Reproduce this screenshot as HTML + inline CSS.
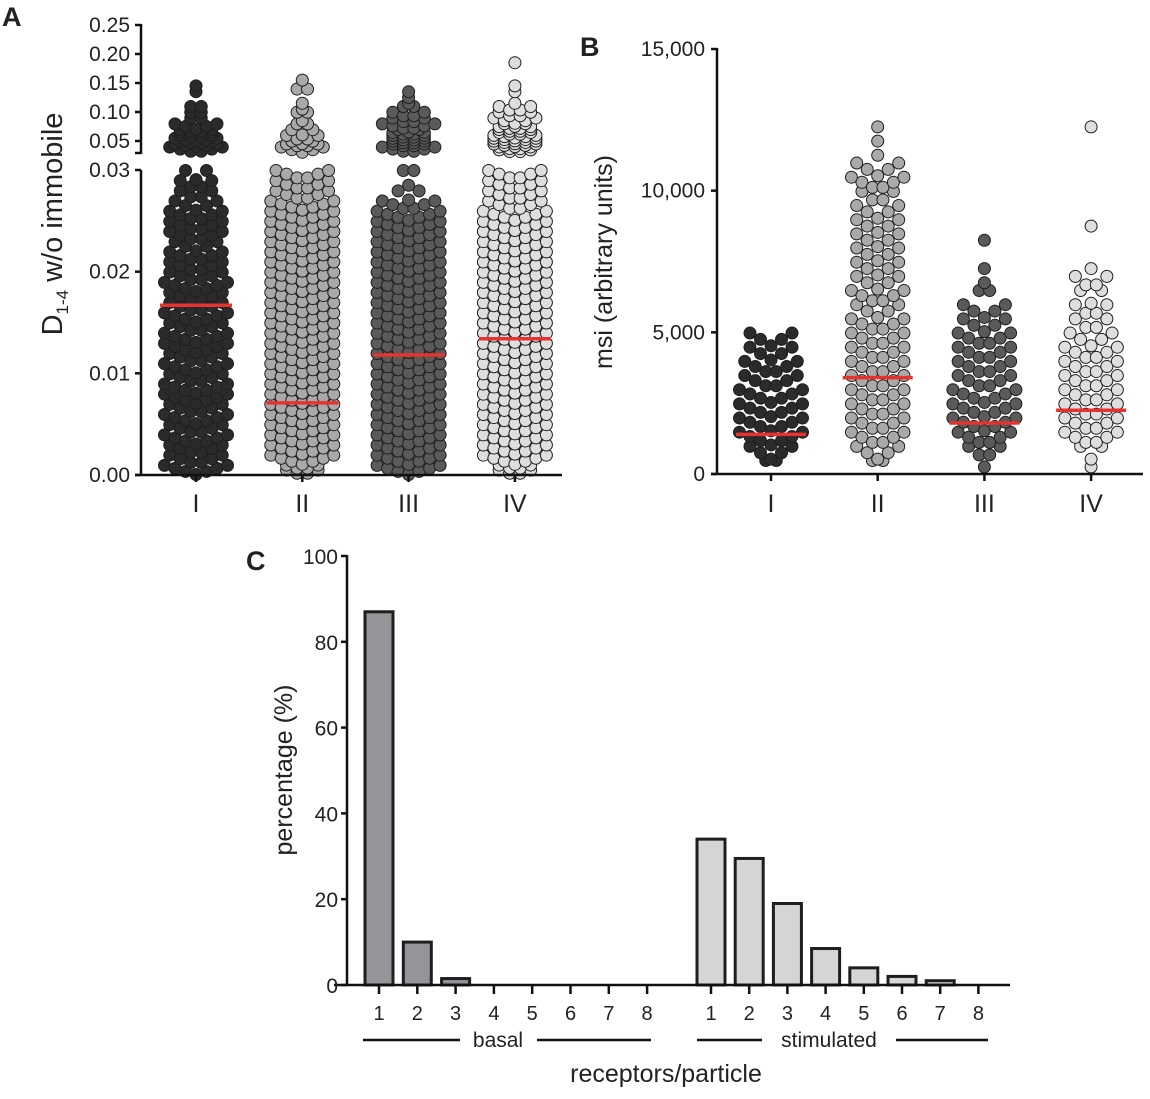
<!DOCTYPE html>
<html><head><meta charset="utf-8"><style>
body{margin:0;background:#fff;}
svg text{font-family:"Liberation Sans Narrow","Liberation Sans",sans-serif;fill:#222;}
</style></head><body>
<svg id="fig" width="1150" height="1094" viewBox="0 0 1150 1094" xmlns="http://www.w3.org/2000/svg">
<text x="2" y="26" font-size="27" font-weight="bold" font-family="Liberation Sans">A</text>
<text x="580" y="56" font-size="27" font-weight="bold" font-family="Liberation Sans">B</text>
<text x="246" y="570" font-size="27" font-weight="bold" font-family="Liberation Sans">C</text>
<g id="pa"></g>
<g id="pb"></g>
<g id="pc"></g>
</svg>
<script>
const groups=["I","II","III","IV"];
const dotColors=["#2b2b2b","#a9a9a9","#5a5a5a","#dedede"];
// Panel A: counts per 0.001 bin for 0-0.03
const aLowI=[7,6,6,7,6,7,6,7,7,6,7,6,7,7,6,7,6,6,7,6,6,6,5,6,6,6,5,4,4,3];
const aLowII=[8,7,7,7,7,7,7,7,7,7,7,7,7,7,7,7,7,7,7,7,7,7,7,7,7,7,7,6,6,6];
const aLowIII=[7,7,7,7,7,7,7,7,7,7,7,7,7,7,7,7,7,7,7,7,7,7,7,7,7,7,6,3,1,2];
const aLowIV=[8,7,7,7,7,7,7,7,7,7,7,7,7,7,7,7,7,7,7,7,7,7,7,7,7,7,6,6,6,6];
// Panel A: counts per 0.01 bin from 0.03 upward
const aHighI=[6,9,9,8,5,2,2,2,0,0,1,1,0,0,0,0];
const aHighII=[5,7,4,3,2,1,2,1,1,0,2,0,1,0,0,0];
const aHighIII=[6,8,8,7,6,4,4,2,1,1,1,0,0,0,0,0];
const aHighIV=[8,10,10,8,7,5,4,4,1,0,1,1,0,0,0,1];
const aMedians=[0.0167,0.0071,0.0118,0.0134];
const aLowTicks=["0.00","0.01","0.02","0.03"];
const aHighTicks=["0.05","0.10","0.15","0.20","0.25"];
// Panel B: counts per 500-unit bin
const bI=[2,5,7,7,7,7,6,6,5,5];
const bII=[2,5,6,6,6,6,6,6,6,6,6,5,6,5,5,5,5,5,5,4,6,5,1,1,1];
const bIII=[1,4,6,7,7,7,6,6,6,6,5,5,2,1,1,0,1];
const bIV=[1,3,6,6,6,6,6,6,6,5,4,4,3,4,1,0,0,1,0,0,0,0,0,0,1];
const bMedians=[1400,3400,1800,2250];
const bTicks=[0,5000,10000,15000];
// Panel C
const cLabels=["1","2","3","4","5","6","7","8"];
const cBasal=[87,10,1.5,0,0,0,0,0];
const cStim=[34,29.5,19,8.5,4,2,1,0];
const cTicks=[0,20,40,60,80,100];

const NS="http://www.w3.org/2000/svg";
function mk(parent,tag,attrs,txt){const e=document.createElementNS(NS,tag);for(const k in attrs)e.setAttribute(k,attrs[k]);if(txt!==undefined)e.textContent=txt;parent.appendChild(e);return e;}

function swarm(g,counts,lo,w,cx,ys,color,gi,maxRow){
  counts.forEach((n,bi)=>{
    if(!n)return;
    const rows=Math.ceil(n/maxRow);
    let left=n;
    for(let r=0;r<rows;r++){
      const m=Math.min(maxRow,Math.ceil(left/(rows-r)));left-=m;
      const base=lo+w*bi+w*r/rows, sub=w/rows;
      for(let k=0;k<m;k++){
        const p=(k-(m-1)/2)*10.5;
        const a=m>1?Math.abs(p)/((m-1)/2*10.5):0;
        const v=base+sub*(m>1?0.05+0.9*a:0.5);
        const c=mk(g,"circle",{cx:cx+p,cy:ys(v),r:6,fill:color,stroke:"#1e1e1e","stroke-width":1});
        
        
      }
    }
  });
}

// ---- Panel A
(function(){
  const g=document.getElementById("pa");
  const ax=141, xs=i=>196+i*106.3;
  const yLow=v=>475-v/0.03*305;
  const yHigh=v=>141-(v-0.05)/0.05*29;
  const low=[aLowI,aLowII,aLowIII,aLowIV], high=[aHighI,aHighII,aHighIII,aHighIV];
  groups.forEach((gname,i)=>{
    swarm(g,low[i],0,0.001,xs(i),yLow,dotColors[i],i,7);
    swarm(g,high[i],0.03,0.01,xs(i),yHigh,dotColors[i],i,6);
  });
  aMedians.forEach((m,i)=>{const l=mk(g,"line",{x1:xs(i)-36,x2:xs(i)+36,y1:yLow(m),y2:yLow(m),stroke:"#e8322f","stroke-width":3.5});
    });
  const yl=mk(g,"line",{x1:ax,x2:ax,y1:170,y2:476,stroke:"#111","stroke-width":2.5});
  
  const yu=mk(g,"line",{x1:ax,x2:ax,y1:24,y2:154,stroke:"#111","stroke-width":2.5});
  
  mk(g,"line",{x1:ax-6,x2:ax,y1:153,y2:153,stroke:"#111","stroke-width":2.5});
  const xl=mk(g,"line",{x1:ax-6,x2:562,y1:475,y2:475,stroke:"#111","stroke-width":2.5});
  
  aLowTicks.forEach((t,i)=>{const y=yLow(+t);mk(g,"line",{x1:ax-6,x2:ax,y1:y,y2:y,stroke:"#111","stroke-width":2.5});
    const tx=mk(g,"text",{x:ax-11,y:y+7,"font-size":21,"text-anchor":"end"},t);});
  aHighTicks.forEach(t=>{const y=yHigh(+t);mk(g,"line",{x1:ax-6,x2:ax,y1:y,y2:y,stroke:"#111","stroke-width":2.5});
    const tx=mk(g,"text",{x:ax-11,y:y+7,"font-size":21,"text-anchor":"end"},t);});
  groups.forEach((t,i)=>{mk(g,"line",{x1:xs(i),x2:xs(i),y1:475,y2:482,stroke:"#111","stroke-width":2.5});
    const tx=mk(g,"text",{x:xs(i),y:512,"font-size":25,"text-anchor":"middle"},t);});
  const tt=mk(g,"text",{transform:"translate(62,224) rotate(-90)","font-size":29,"text-anchor":"middle"});
  
  mk(tt,"tspan",{},"D");mk(tt,"tspan",{"font-size":17,dy:6},"1-4");mk(tt,"tspan",{dy:-6}," w/o immobile");
})();

// ---- Panel B
(function(){
  const g=document.getElementById("pb");
  const ax=717, xs=i=>771+i*106.7, ys=v=>474-v/15000*425;
  [bI,bII,bIII,bIV].forEach((c,i)=>swarm(g,c,0,500,xs(i),ys,dotColors[i],i,7));
  bMedians.forEach((m,i)=>{const l=mk(g,"line",{x1:xs(i)-35,x2:xs(i)+35,y1:ys(m),y2:ys(m),stroke:"#e8322f","stroke-width":3.5});
    });
  const yl=mk(g,"line",{x1:ax,x2:ax,y1:48,y2:475,stroke:"#111","stroke-width":2.5});
  
  const xl=mk(g,"line",{x1:ax-6,x2:1143,y1:474,y2:474,stroke:"#111","stroke-width":2.5});
  
  bTicks.forEach(t=>{const y=ys(t);mk(g,"line",{x1:ax-6,x2:ax,y1:y,y2:y,stroke:"#111","stroke-width":2.5});
    const tx=mk(g,"text",{x:ax-12,y:y+7,"font-size":21,"text-anchor":"end"},t.toLocaleString("en-US"));});
  groups.forEach((t,i)=>{mk(g,"line",{x1:xs(i),x2:xs(i),y1:474,y2:481,stroke:"#111","stroke-width":2.5});
    const tx=mk(g,"text",{x:xs(i),y:512,"font-size":25,"text-anchor":"middle"},t);});
  const tt=mk(g,"text",{transform:"translate(612,262) rotate(-90)","font-size":25,"text-anchor":"middle"},"msi (arbitrary units)");
  
})();

// ---- Panel C
(function(){
  const g=document.getElementById("pc");
  const ax=347, ys=v=>985-v/100*429, xb=i=>379+i*38.3, xst=i=>711+i*38.2, bw=28;
  cBasal.forEach((v,i)=>{if(v<=0)return;const r=mk(g,"rect",{x:xb(i)-bw/2,y:ys(v),width:bw,height:985-ys(v),fill:"#939598",stroke:"#1e1e1e","stroke-width":3});
    });
  cStim.forEach((v,i)=>{if(v<=0)return;const r=mk(g,"rect",{x:xst(i)-bw/2,y:ys(v),width:bw,height:985-ys(v),fill:"#d4d5d7",stroke:"#1e1e1e","stroke-width":3});
    });
  const yl=mk(g,"line",{x1:ax,x2:ax,y1:555,y2:986,stroke:"#111","stroke-width":2.5});
  
  const xl=mk(g,"line",{x1:334,x2:1010,y1:985,y2:985,stroke:"#111","stroke-width":2.5});
  
  cTicks.forEach(t=>{const y=ys(t);mk(g,"line",{x1:ax-6,x2:ax,y1:y,y2:y,stroke:"#111","stroke-width":2.5});
    const tx=mk(g,"text",{x:ax-9,y:y+8,"font-size":21,"text-anchor":"end"},t);});
  cLabels.forEach((t,i)=>{[xb(i),xst(i)].forEach(x=>{mk(g,"line",{x1:x,x2:x,y1:985,y2:994,stroke:"#111","stroke-width":2.5});
    const tx=mk(g,"text",{x:x,y:1020,"font-size":20,"text-anchor":"middle"},t);});});
  mk(g,"line",{x1:363,x2:460,y1:1040,y2:1040,stroke:"#111","stroke-width":2.5});
  mk(g,"line",{x1:537,x2:651,y1:1040,y2:1040,stroke:"#111","stroke-width":2.5});
  mk(g,"line",{x1:697,x2:762,y1:1040,y2:1040,stroke:"#111","stroke-width":2.5});
  mk(g,"line",{x1:896,x2:988,y1:1040,y2:1040,stroke:"#111","stroke-width":2.5});
  const b=mk(g,"text",{x:498,y:1047,"font-size":21,"text-anchor":"middle"},"basal");
  const s=mk(g,"text",{x:829,y:1047,"font-size":21,"text-anchor":"middle"},"stimulated");
  const xt=mk(g,"text",{x:666,y:1082,"font-size":25,"text-anchor":"middle"},"receptors/particle");
  const yt=mk(g,"text",{transform:"translate(292,770) rotate(-90)","font-size":25,"text-anchor":"middle"},"percentage (%)");
})();
</script>
</body></html>
